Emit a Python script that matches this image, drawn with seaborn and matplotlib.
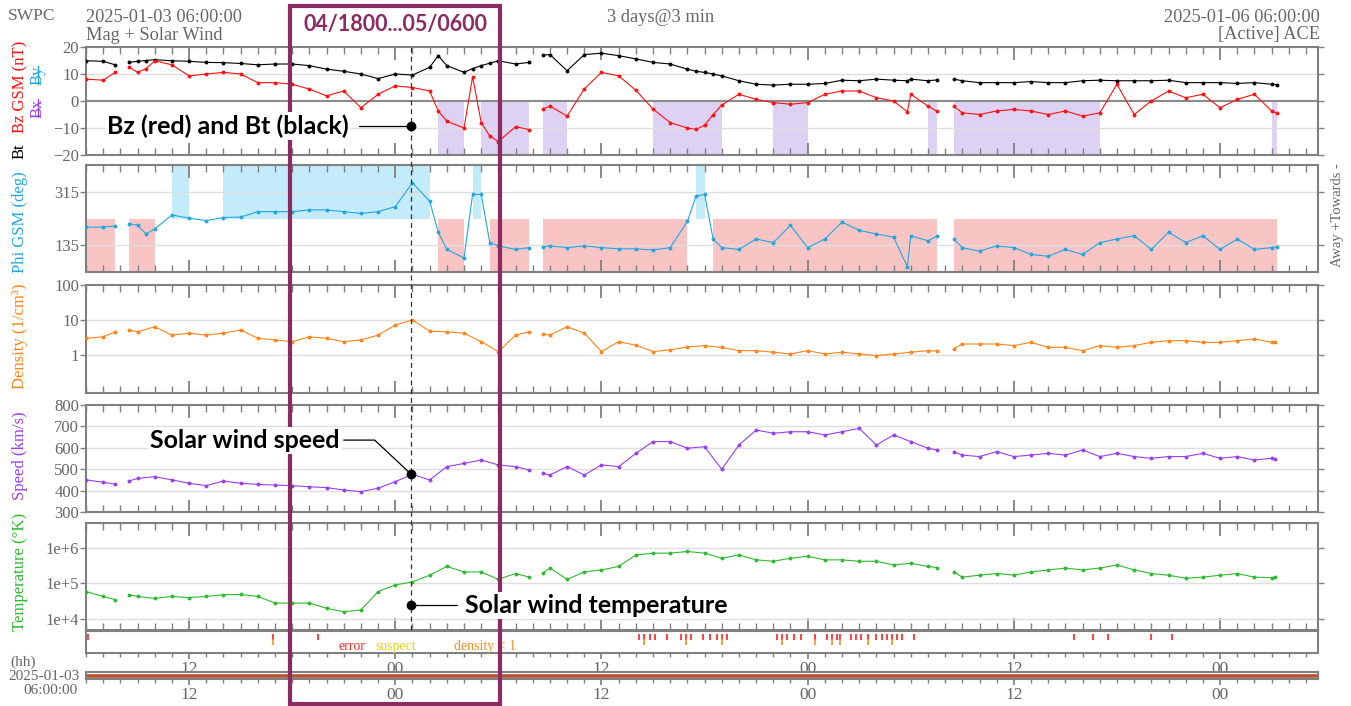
import numpy as np
import pandas as pd
import matplotlib
matplotlib.use("Agg")
import matplotlib.pyplot as plt
import matplotlib.ticker as mticker
from matplotlib.patches import Rectangle
from matplotlib.lines import Line2D
from matplotlib.transforms import blended_transform_factory
import seaborn as sns

nan = np.nan

# hours since 2025-01-03 06:00 UT (NaN rows mark data gaps)
mag_hours = [0, 1, 1.7, 2.1, 2.5, 3, 3.5, 4, 5, 6, 7, 8, 9, 10, 11, 12, 13, 14, 15, 16, 17, 18, 19, 20,
             20.5, 21, 22, 22.5, 23, 23.5, 24, 25, 25.8, 26.2, 26.6, 27, 28, 29, 30, 31, 32, 33, 34, 35,
             35.5, 36, 36.5, 37, 38, 39, 40, 41, 42, 43, 44, 45, 46, 47, 47.8, 48, 49, 49.5, 50.0, 50.5,
             51, 52, 53, 54, 55, 56, 57, 58, 59, 60, 61, 62, 63, 64, 65, 66, 67, 68, 69, 69.3]
bt_nt = [14.9, 14.7, 13.4, nan, 14.3, 14.7, 15.0, 15.3, 14.9, 14.7,
         14.3, 14.2, 13.9, 13.4, 13.7, 13.7, 13.1, 11.8, 11.0, 10.0,
         8.3, 10.0, 9.6, 12.5, 16.8, 13.1, 10.6, 12.0, 13.1, 14.0,
         14.9, 13.7, 14.3, nan, 17.0, 17.2, 11.2, 17.2, 17.7, 16.8,
         15.6, 14.3, 13.7, 11.8, 11.0, 10.6, 10.0, 9.3, 7.5, 6.2,
         5.9, 6.2, 6.2, 6.5, 7.7, 7.5, 8.1, 7.7, 7.5, 8.1,
         7.5, 7.8, nan, 8.1, 7.5, 6.8, 6.8, 6.8, 7.2, 6.8,
         6.8, 7.5, 7.7, 7.5, 7.5, 7.5, 7.7, 6.8, 6.8, 6.8,
         6.5, 6.8, 6.2, 6.0]
bz_nt = [8.1, 7.7, 10.6, nan, 12.5, 10.6, 12.0, 14.9, 13.4, 9.3,
         10.0, 10.6, 10.0, 6.8, 6.8, 6.2, 4.4, 1.9, 3.7, -2.5,
         2.5, 5.6, 5.0, 3.7, -3.7, -7.5, -10.0, 9.0, -8.0, -13.0,
         -15.0, -9.5, -10.6, nan, -3.0, -1.9, -5.6, 4.5, 10.6, 9.3,
         4.0, -3.0, -8.0, -10.0, -10.5, -9.0, -5.0, -1.5, 2.5, 0.6,
         -0.6, -1.2, -0.6, 2.5, 3.7, 3.7, 1.2, 0.0, -4.0, 2.5,
         -1.9, -3.7, nan, -1.9, -4.4, -5.0, -3.7, -3.1, -3.7, -5.0,
         -3.7, -5.6, -4.4, 6.2, -5.0, 0.0, 3.7, 1.2, 2.5, -2.5,
         0.6, 2.5, -3.7, -4.5]
phi_deg = [196, 196, 200, nan, 208, 202, 173, 190, 237, 226,
           218, 228, 230, 248, 248, 248, 254, 254, 248, 242,
           248, 265, 345, 283, 179, 121, 92, 306, 306, 144,
           133, 121, 127, nan, 130, 133, 127, 133, 127, 123,
           123, 119, 127, 215, 300, 306, 156, 127, 121, 156,
           144, 202, 127, 156, 213, 185, 173, 162, 63, 167,
           150, 165, nan, 156, 127, 115, 133, 127, 104, 98,
           121, 104, 144, 156, 167, 121, 179, 144, 167, 121,
           156, 121, 127, 130]

plasma_hours = [0, 1, 1.7, 2.1, 2.5, 3, 4, 5, 6, 7, 8, 9, 10, 11, 12, 13, 14, 15, 16, 17, 18, 19, 20,
                21, 22, 23, 24, 25, 25.8, 26.2, 26.6, 27, 28, 29, 30, 31, 32, 33, 34, 35, 36, 37, 38,
                39, 40, 41, 42, 43, 44, 45, 46, 47, 48, 49, 49.5, 50.0, 50.5, 51, 52, 53, 54, 55, 56,
                57, 58, 59, 60, 61, 62, 63, 64, 65, 66, 67, 68, 69, 69.2]
density_cc = [3.0, 3.3, 4.6, nan, 5.2, 4.6, 6.4, 3.7, 4.2, 3.7,
              4.2, 5.2, 3.0, 2.7, 2.4, 3.3, 3.0, 2.4, 2.7, 3.7,
              7.2, 10.0, 4.8, 4.6, 4.2, 2.4, 1.25, 3.7, 4.6, nan,
              4.0, 3.7, 6.4, 4.2, 1.25, 2.4, 1.9, 1.25, 1.4, 1.7,
              1.85, 1.65, 1.33, 1.33, 1.2, 1.07, 1.33, 1.07, 1.2, 1.07,
              0.96, 1.07, 1.2, 1.33, 1.3, nan, 1.5, 2.06, 2.06, 2.06,
              1.85, 2.3, 1.65, 1.65, 1.33, 1.85, 1.65, 1.85, 2.3, 2.56,
              2.56, 2.3, 2.3, 2.56, 2.86, 2.3, 2.3]
speed_kms = [450, 439, 430, nan, 445, 457, 465, 450, 434, 423,
             445, 434, 429, 426, 423, 418, 414, 403, 395, 411,
             442, 476, 450, 512, 527, 543, 520, 512, 496, nan,
             480, 473, 512, 473, 520, 512, 574, 629, 629, 598,
             605, 500, 613, 683, 668, 675, 675, 660, 675, 691,
             613, 660, 629, 598, 590, nan, 582, 566, 559, 582,
             559, 566, 574, 566, 590, 559, 574, 559, 551, 559,
             559, 574, 551, 559, 543, 551, 550]
temp_k = [5.9e4, 4.3e4, 3.5e4, nan, 4.8e4, 4.3e4, 3.8e4, 4.3e4, 4.0e4, 4.3e4,
          4.8e4, 4.9e4, 4.3e4, 2.8e4, 2.8e4, 2.8e4, 2.0e4, 1.6e4, 1.8e4, 5.9e4,
          9.1e4, 1.1e5, 1.7e5, 3.0e5, 2.1e5, 2.1e5, 1.3e5, 1.9e5, 1.5e5, nan,
          2.0e5, 2.7e5, 1.3e5, 2.1e5, 2.4e5, 3.0e5, 6.3e5, 7.1e5, 7.1e5, 7.9e5,
          7.1e5, 5.1e5, 6.3e5, 4.6e5, 4.2e5, 5.1e5, 5.8e5, 4.6e5, 4.6e5, 4.2e5,
          4.2e5, 3.3e5, 3.7e5, 3.0e5, 2.8e5, nan, 2.1e5, 1.5e5, 1.7e5, 1.9e5,
          1.7e5, 2.1e5, 2.4e5, 2.7e5, 2.4e5, 2.7e5, 3.3e5, 2.4e5, 1.9e5, 1.7e5,
          1.4e5, 1.5e5, 1.7e5, 1.9e5, 1.5e5, 1.45e5, 1.5e5]

flag_hours = [0.1, 10.9, 13.5, 32.2, 32.5, 32.8, 33.1, 33.8, 34.6, 34.9, 35.2, 35.9, 36.3, 36.7,
              37.0, 37.3, 40.2, 40.5, 40.8, 41.2, 41.6, 42.4, 43.1, 43.4, 43.7, 43.9, 44.5, 44.8,
              45.1, 45.5, 46.0, 46.3, 46.6, 46.9, 47.2, 47.5, 48.2, 57.5, 58.6, 59.5, 62.0, 63.2]
flag_kinds = list("edeedeeeedeeeedeedeeedededeeedeeedeeeeeeee")

tick_hours = [6, 18, 30, 42, 54, 66]
tick_labels = ["12", "00", "12", "00", "12", "00"]
box_start, box_end = 11.9, 24.1     # 04/1800...05/0600 window
callout_h = 18.9

sns.set_theme(style="white")
plt.rcParams["font.family"] = ["Liberation Serif", "DejaVu Serif"]

grey = "#666666"
edge = "#808080"
c_bz, c_phi, c_n, c_v, c_t = "#ff1010", "#22a6e2", "#ff8419", "#9a3ff0", "#2fba2f"
c_box = "#8c2a62"

W, H = 1351, 706
fig = plt.figure(figsize=(W / 100, H / 100), dpi=100)
fig.patch.set_facecolor("white")


def panel(top, bottom):
    return fig.add_axes([86 / W, 1 - bottom / H, (1318 - 86) / W, (bottom - top) / H])


ax_b = panel(47, 155)
ax_phi = panel(165, 272)
ax_n = panel(285, 393)
ax_v = panel(405, 512)
ax_t = panel(523, 630)
ax_flag = panel(631, 653)
ax_bar = panel(672, 679)
data_axes = [ax_b, ax_phi, ax_n, ax_v, ax_t]

mag = pd.DataFrame({"h": mag_hours, "bt": bt_nt, "bz": bz_nt, "phi": phi_deg})
mag["seg"] = mag["bt"].isna().cumsum()
plasma = pd.DataFrame({"h": plasma_hours, "n": density_cc, "v": speed_kms, "t": temp_k})
plasma["seg"] = plasma["n"].isna().cumsum()


def trace(ax, df, col, color):
    d = df.dropna(subset=[col])
    sns.lineplot(data=d, x="h", y=col, units="seg", estimator=None, ax=ax, color=color,
                 lw=0.8, marker="o", markersize=2.8, markeredgewidth=0, legend=False, zorder=3)


# --- shading ---
bz = mag["bz"].to_numpy()
phi = mag["phi"].to_numpy()
ax_b.fill_between(mag["h"], 0, -20, where=bz < 0, step="mid", color="#ddd2f3", lw=0, zorder=0)
ax_phi.fill_between(mag["h"], 225, 405, where=phi >= 225, step="mid", color="#c3ebfa", lw=0, zorder=0)
ax_phi.fill_between(mag["h"], 45, 225, where=phi < 225, step="mid", color="#f9c4c4", lw=0, zorder=0)

# --- grid lines ---
for ax, vals in [(ax_b, [10, -10]), (ax_phi, [135, 315]), (ax_n, [1, 10]),
                 (ax_v, [400, 500, 600, 700]), (ax_t, [1e4, 1e5, 1e6])]:
    for v in vals:
        ax.axhline(v, color="#dedede", lw=1, zorder=1)
ax_b.axhline(0, color="#8a8a8a", lw=1.5, zorder=1)

trace(ax_b, mag, "bt", "black")
trace(ax_b, mag, "bz", c_bz)
trace(ax_phi, mag, "phi", c_phi)
trace(ax_n, plasma, "n", c_n)
trace(ax_v, plasma, "v", c_v)
trace(ax_t, plasma, "t", c_t)

# --- axes formatting ---
for ax in data_axes + [ax_flag, ax_bar]:
    ax.set_xlim(0, 71.7)
    ax.set_xlabel("")
    ax.set_ylabel("")
    ax.set_facecolor("white")
    for s in ax.spines.values():
        s.set_color(edge)
        s.set_linewidth(1.5)
    ax.xaxis.set_major_locator(mticker.FixedLocator(tick_hours))
    ax.xaxis.set_minor_locator(mticker.MultipleLocator(1))

for ax in data_axes:
    ax.tick_params(axis="x", which="both", direction="in", top=True, bottom=True,
                   labelbottom=False, color=edge)
    ax.tick_params(axis="x", which="major", length=9, width=1.3)
    ax.tick_params(axis="x", which="minor", length=5, width=1)
    ax.tick_params(axis="y", which="major", direction="out", left=True, right=True,
                   length=4, width=1, color=edge, labelsize=12, labelcolor=grey, pad=1)
    ax.tick_params(axis="y", which="minor", direction="in", left=True, right=True,
                   length=3, width=0.8, color=edge)

ax_b.set_ylim(-20, 20)
ax_b.set_yticks([-20, -10, 0, 10, 20])
ax_phi.set_ylim(45, 405)
ax_phi.set_yticks([135, 315])
ax_n.set_yscale("log")
ax_n.set_ylim(0.082, 100)
ax_n.set_yticks([1, 10, 100])
ax_n.set_yticklabels(["1", "10", "100"])
ax_n.yaxis.set_minor_locator(mticker.LogLocator(base=10, subs=np.arange(2, 10)))
ax_n.yaxis.set_minor_formatter(mticker.NullFormatter())
ax_v.set_ylim(300, 800)
ax_v.set_yticks([300, 400, 500, 600, 700, 800])
ax_t.set_yscale("log")
ax_t.set_ylim(4.9e3, 5e6)
ax_t.set_yticks([1e4, 1e5, 1e6])
ax_t.set_yticklabels(["1e+4", "1e+5", "1e+6"])
ax_t.yaxis.set_minor_locator(mticker.NullLocator())

# quality flags strip
ax_flag.set_ylim(0, 1)
ax_flag.set_yticks([])
flags = pd.DataFrame({"h": flag_hours, "kind": flag_kinds})
flags["y"] = 0.72
sns.scatterplot(data=flags, x="h", y="y", ax=ax_flag, color="#ff2020", marker="|", s=18,
                linewidth=1.2, legend=False)
dens_flags = flags[flags["kind"] == "d"].assign(y=0.5)
sns.scatterplot(data=dens_flags, x="h", y="y", ax=ax_flag, color="#ff8c1a", marker="|", s=14,
                linewidth=1.2, legend=False)
ax_flag.set_xlabel("")
ax_flag.set_ylabel("")
ax_flag.text(15.5, 0.3, "error", color="#ff2a2a", fontsize=10, ha="center", va="center")
ax_flag.text(18.0, 0.3, "suspect", color="#e2d21a", fontsize=10, ha="center", va="center")
ax_flag.text(23.2, 0.3, "density < 1", color="#ff8c1a", fontsize=10, ha="center", va="center")

for ax in [ax_flag, ax_bar]:
    ax.set_xticklabels(tick_labels)
    ax.tick_params(axis="x", which="both", direction="out", top=False, bottom=True,
                   color=edge, labelsize=12.5, labelcolor=grey, pad=2)
    ax.tick_params(axis="x", which="major", length=4)
    ax.tick_params(axis="x", which="minor", length=3)
ax_bar.set_ylim(0, 1)
ax_bar.set_yticks([])
ax_bar.axhline(0.5, color="#b4532f", lw=2.6)

# --- text around the panels ---
def fx(x):
    return x / W


def fy(y):
    return 1 - y / H


fig.text(fx(8), fy(16), "SWPC", color=grey, fontsize=12.5, va="center")
fig.text(fx(86), fy(17), "2025-01-03 06:00:00", color=grey, fontsize=13.2, va="center")
fig.text(fx(86), fy(35), "Mag + Solar Wind", color=grey, fontsize=13.2, va="center")
fig.text(fx(661), fy(17), "3 days@3 min", color=grey, fontsize=13.2, va="center", ha="center")
fig.text(fx(1320), fy(17), "2025-01-06 06:00:00", color=grey, fontsize=13.2, va="center", ha="right")
fig.text(fx(1320), fy(35), "[Active] ACE", color=grey, fontsize=13.2, va="center", ha="right")

side = dict(rotation=90, ha="center", va="center", fontsize=12)
fig.text(fx(20), fy(87), "Bz GSM (nT)", color=c_bz, **side)
fig.text(fx(20), fy(151), "Bt", color="black", **side)
fig.text(fx(38), fy(75), "By", color=c_phi, **side)
fig.text(fx(38), fy(108), "Bx", color=c_v, **side)
fig.add_artist(Line2D([fx(38), fx(38)], [fy(66), fy(84)], color=c_phi, lw=1))
fig.add_artist(Line2D([fx(38), fx(38)], [fy(99), fy(117)], color=c_v, lw=1))
fig.text(fx(20), fy(222), "Phi GSM (deg)", color=c_phi, **side)
fig.text(fx(20), fy(336), "Density (1/cm³)", color=c_n, **side)
fig.text(fx(20), fy(456), "Speed (km/s)", color=c_v, **side)
fig.text(fx(20), fy(572), "Temperature (°K)", color=c_t, **side)
fig.text(fx(1338), fy(215), "Away +Towards -", color=grey, rotation=90, ha="center",
         va="center", fontsize=10.5)

fig.text(fx(10), fy(662), "(hh)", color=grey, fontsize=11, va="center")
fig.text(fx(80), fy(677), "2025-01-03", color=grey, fontsize=11, va="center", ha="right")
fig.text(fx(78), fy(690), "06:00:00", color=grey, fontsize=11, va="center", ha="right")

# --- highlight window and call-outs ---
trans = blended_transform_factory(ax_b.transData, fig.transFigure)
fig.add_artist(Rectangle((box_start, fy(704)), box_end - box_start, (704 - 6) / H,
                         transform=trans, fill=False, ec=c_box, lw=3, zorder=5))
fig.text((box_start + box_end) / 2, fy(25), "04/1800...05/0600", transform=trans,
         ha="center", va="center", color=c_box, fontsize=15.5, fontweight="bold",
         family=["Lato", "DejaVu Sans"], zorder=6)
fig.add_artist(Line2D([callout_h, callout_h], [fy(630), fy(45)], transform=trans,
                      color="#333333", lw=0.9, ls=(0, (4, 3)), zorder=4))

call = dict(ha="left", va="center", color="black", fontsize=18, fontweight="bold",
            family=["Lato", "DejaVu Sans"], zorder=7,
            bbox=dict(facecolor="white", edgecolor="none", pad=1.5))
line_kw = dict(color="black", lw=0.9, zorder=6)
dot_kw = dict(color="black", marker="o", markersize=6, lw=0, zorder=6)

# Bz / Bt
fig.text(1.22, -9.35, "Bz (red) and Bt (black)", transform=ax_b.transData, **call)
fig.add_artist(Line2D([15.9, callout_h], [-9.35, -9.35], transform=ax_b.transData, **line_kw))
fig.add_artist(Line2D([callout_h], [-9.35], transform=ax_b.transData, **dot_kw))
# speed
fig.text(3.73, 636, "Solar wind speed", transform=ax_v.transData, **call)
fig.add_artist(Line2D([15.0, 16.8, callout_h], [636, 636, 478], transform=ax_v.transData, **line_kw))
fig.add_artist(Line2D([callout_h], [478], transform=ax_v.transData, **dot_kw))
# temperature
fig.text(22.07, 2.45e4, "Solar wind temperature", transform=ax_t.transData, **call)
fig.add_artist(Line2D([callout_h, 21.6], [2.45e4, 2.45e4], transform=ax_t.transData, **line_kw))
fig.add_artist(Line2D([callout_h], [2.45e4], transform=ax_t.transData, **dot_kw))

fig.savefig("out.png", dpi=100, facecolor="white")
